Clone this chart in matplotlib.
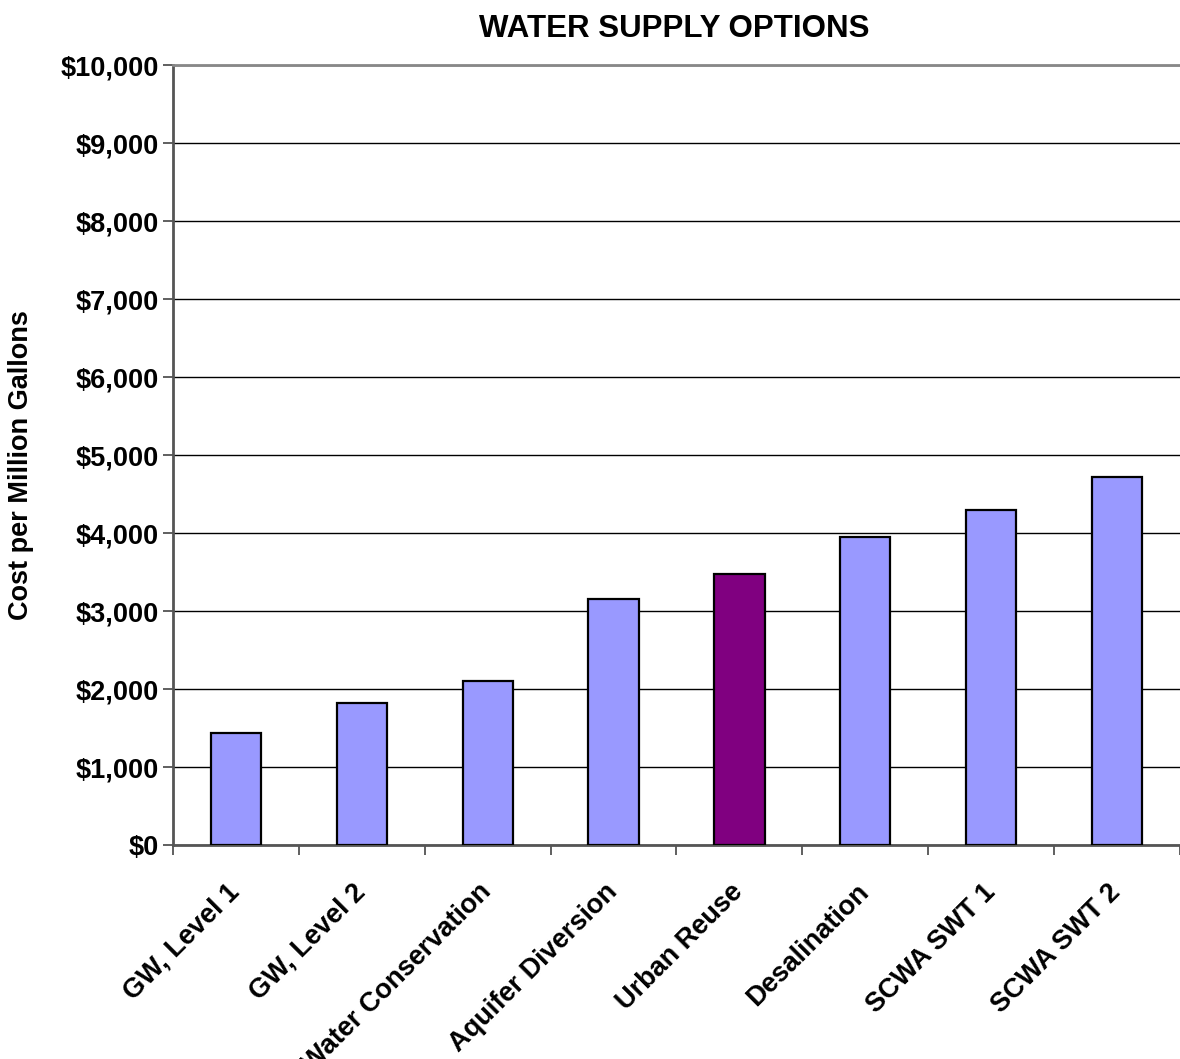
import matplotlib

matplotlib.use("Agg")
import matplotlib.pyplot as plt
import matplotlib.transforms as mtransforms
import numpy as np

plt.rcParams["font.family"] = ["Liberation Sans", "DejaVu Sans"]
plt.rcParams["font.weight"] = "bold"

options = [
    "GW, Level 1",
    "GW, Level 2",
    "Water Conservation",
    "Aquifer Diversion",
    "Urban Reuse",
    "Desalination",
    "SCWA SWT 1",
    "SCWA SWT 2",
]
cost_per_mg = [1436, 1821, 2103, 3154, 3474, 3949, 4295, 4718]
highlight = "Urban Reuse"

fig = plt.figure(figsize=(11.8, 10.59), dpi=100)
ax = fig.add_axes([0.1466, 0.202, 0.8534, 0.7366])

x = np.arange(len(options))
colors = ["#800080" if o == highlight else "#9999FF" for o in options]
ax.bar(x, cost_per_mg, width=0.4, color=colors, edgecolor="black", linewidth=1.6, zorder=3)

ax.set_xlim(-0.5, len(options) - 0.5)
ax.set_ylim(0, 10000)
ax.set_yticks(np.arange(0, 10001, 1000))
ax.set_yticklabels([f"${v:,.0f}" for v in np.arange(0, 10001, 1000)], fontsize=19.5, fontweight="bold")
ax.yaxis.grid(True, color="black", linewidth=1.0, zorder=0)

ax.set_xticks(x)
ax.set_xticklabels(options, rotation=45, ha="right", va="center", rotation_mode="anchor",
                   fontsize=19.5, fontweight="bold")
# nudge the slanted labels a little to the left
shift = mtransforms.ScaledTranslation(-6 / 100, 0, fig.dpi_scale_trans)
for lbl in ax.get_xticklabels():
    lbl.set_transform(lbl.get_transform() + shift)
ax.set_xticks(np.arange(-0.5, len(options)), minor=True)
ax.tick_params(axis="x", which="major", length=0, pad=31)
ax.tick_params(axis="x", which="minor", length=7, width=1.2, color="#444444", direction="out")
ax.tick_params(axis="y", length=7, width=1.2, color="#444444", direction="out", pad=3)

for side in ["left", "bottom"]:
    ax.spines[side].set_color("#555555")
    ax.spines[side].set_linewidth(2)
ax.spines["right"].set_visible(False)
ax.spines["top"].set_color("#888888")
ax.spines["top"].set_linewidth(2)

ax.set_ylabel("Cost per Million Gallons", fontsize=19.5, fontweight="bold")
ax.yaxis.set_label_coords(-0.138, 0.487)
fig.text(0.571, 0.973, "WATER SUPPLY OPTIONS", ha="center", va="center",
         fontsize=22.5, fontweight="bold")

fig.savefig("out.png", dpi=100)
